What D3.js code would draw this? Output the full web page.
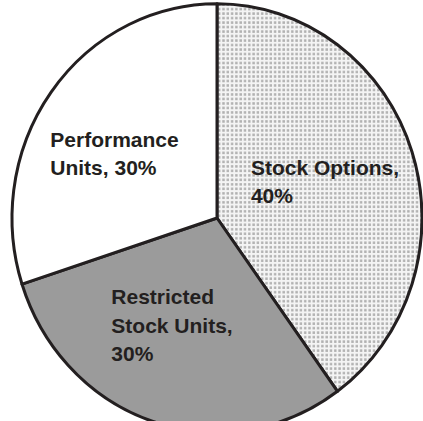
<!DOCTYPE html>
<html>
<head>
<meta charset="utf-8">
<script src="https://cdn.jsdelivr.net/npm/d3@7"></script>
<style>
  body { margin: 0; background: #fff; }
  svg { display: block; }
</style>
</head>
<body>
<div id="chart"></div>
<script>
// slices, clockwise from 12 o'clock
var names = ["Stock Options", "Restricted Stock Units", "Performance Units"];
var shares = [40, 30, 30];
var labelLines = [
  ["Stock Options,", "40%"],
  ["Restricted", "Stock Units,", "30%"],
  ["Performance", "Units, 30%"]
];
var fills = ["url(#dots)", "#9b9b9b", "#ffffff"];
// small nudges from the centroid, per label
var labelNudge = [[-9, 3], [-7, -15], [-3, 11]];

var svgWidth = 423;
var svgHeight = 421;
var cx = 217, cy = 218;
var radius = 205;
var squash = 1.045; // pie is a little taller than wide

var svg = d3.select("#chart")
  .append("svg")
  .attr("width", svgWidth)
  .attr("height", svgHeight);

var defs = svg.append("defs");
var pat = defs.append("pattern")
  .attr("id", "dots")
  .attr("patternUnits", "userSpaceOnUse")
  .attr("width", 4.3)
  .attr("height", 4.3);
pat.append("rect").attr("width", 4.3).attr("height", 4.3).attr("fill", "#f4f4f4");
pat.append("rect").attr("x", 1).attr("y", 1).attr("width", 2.4).attr("height", 2.4).attr("fill", "#b0b0b0");

var pie = d3.pie().sort(null).value(d => d);
var arc = d3.arc().innerRadius(0).outerRadius(radius);
var labelArc = d3.arc().innerRadius(radius * 0.6).outerRadius(radius * 0.6);

var arcs = pie(shares);

var pieGroup = svg.append("g")
  .attr("transform", `translate(${cx}, ${cy}) scale(1, ${squash})`);

pieGroup.selectAll("path")
  .data(arcs)
  .enter()
  .append("path")
  .attr("d", arc)
  .attr("fill", (d, i) => fills[i])
  .attr("stroke", "#231f20")
  .attr("stroke-width", 3)
  .attr("stroke-linejoin", "round")
  .attr("vector-effect", "non-scaling-stroke");

var lineHeight = 28.5;

var labels = svg.selectAll("text.lbl")
  .data(arcs)
  .enter()
  .append("text")
  .attr("class", "lbl")
  .attr("font-family", "'Liberation Sans', Arial, sans-serif")
  .attr("font-weight", "bold")
  .attr("font-size", "21px")
  .attr("fill", "#231f20");

labels.each(function(d, i) {
  var t = d3.select(this);
  labelLines[i].forEach(function(line, j) {
    t.append("tspan").attr("x", 0).attr("y", j * lineHeight).text(line);
  });
  var c = labelArc.centroid(d);
  var bb = this.getBBox();
  var x = cx + c[0] + labelNudge[i][0] - bb.width / 2;
  var y = cy + c[1] * squash + labelNudge[i][1] - (bb.y + bb.height / 2);
  t.attr("transform", `translate(${x}, ${y})`);
});
</script>
</body>
</html>
